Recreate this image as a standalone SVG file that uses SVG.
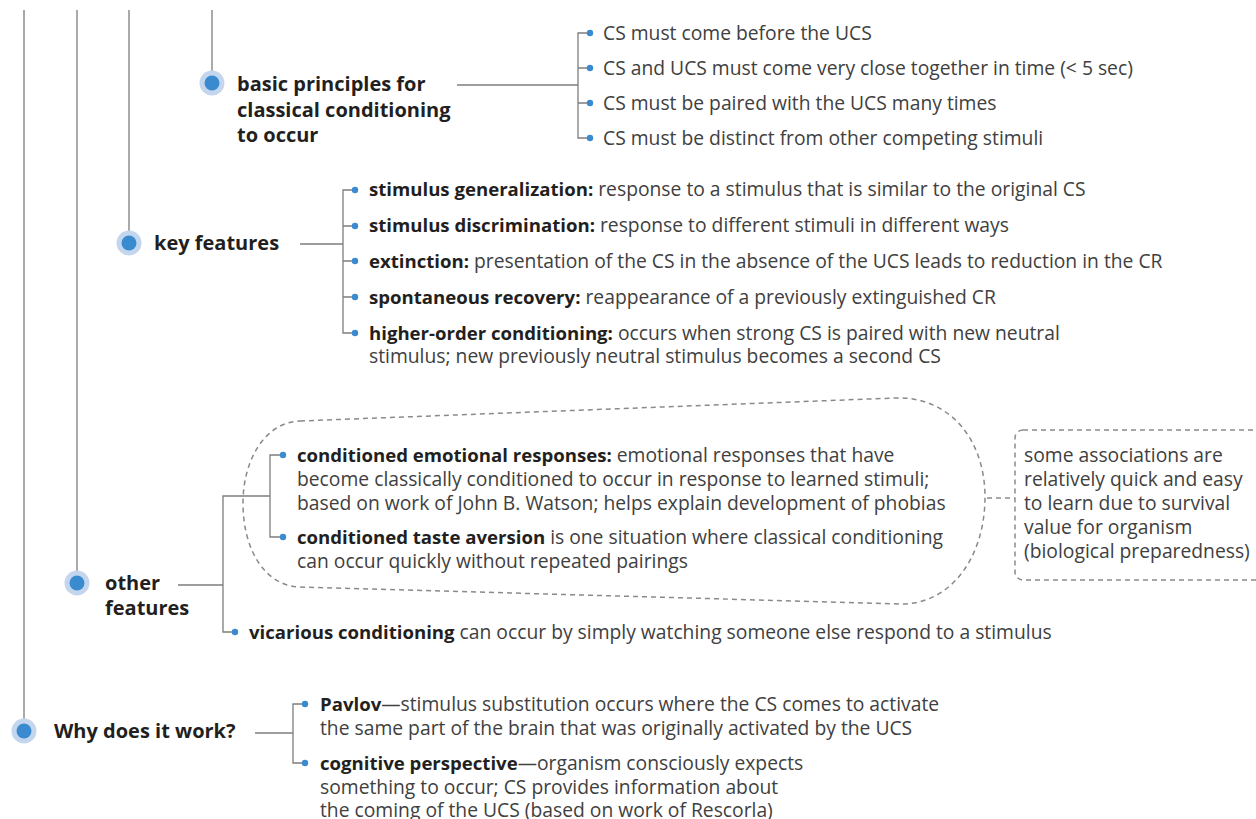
<svg xmlns="http://www.w3.org/2000/svg" width="1256" height="819" viewBox="0 0 1256 819">
<style>
.ln{fill:none;stroke:#7d7d7d;stroke-width:1.3}
.dash{fill:none;stroke:#8a8a8a;stroke-width:1.5;stroke-dasharray:5 4}
.halo{fill:#c3d6ee}
.core{fill:#3a8acf}
.lbl{font-family:"Open Sans","Liberation Sans",sans-serif;font-weight:700;font-size:20px;fill:#231f20}
.t{font-family:"Open Sans","Liberation Sans",sans-serif;font-size:19.3px;fill:#404040}
.b{font-weight:700;font-size:18.6px;fill:#231f20}
</style>
<rect width="1256" height="819" fill="#ffffff"/>
<g id="connectors">
<path class="ln" d="M24,10V731M77,10V583M129,10V243M212,10V83"/>
<path class="ln" d="M457,85H578M590,33H578V138H590M578,68H590M578,103H590"/>
<path class="ln" d="M300,244H343M355,190H343V333H355M343,226H355M343,261H355M343,297H355"/>
<path class="ln" d="M178,585H223M235,632H223V496H270M283,455H270V537H283"/>
<path class="ln" d="M255,733H293M305,704H293V763H305"/>
<path class="dash" d="M987,498H1015"/>
<g fill="#3a8acf">
<circle cx="590" cy="33" r="3.2"/><circle cx="590" cy="68" r="3.2"/><circle cx="590" cy="103" r="3.2"/><circle cx="590" cy="138" r="3.2"/>
<circle cx="355" cy="190" r="3.2"/><circle cx="355" cy="226" r="3.2"/><circle cx="355" cy="261" r="3.2"/><circle cx="355" cy="297" r="3.2"/><circle cx="355" cy="333" r="3.2"/>
<circle cx="283" cy="455" r="3.2"/><circle cx="283" cy="537" r="3.2"/><circle cx="235" cy="632" r="3.2"/>
<circle cx="305" cy="704" r="3.2"/><circle cx="305" cy="763" r="3.2"/>
</g>
</g>
<g id="node-basic">
<circle class="halo" cx="212" cy="83" r="12.5"/><circle class="core" cx="212" cy="83" r="7.5"/>
<text class="lbl" x="237" y="91">basic principles for</text>
<text class="lbl" x="237" y="117">classical conditioning</text>
<text class="lbl" x="237" y="142">to occur</text>
</g>
<g id="items-basic">
<text class="t" x="603" y="40">CS must come before the UCS</text>
<text class="t" x="603" y="75">CS and UCS must come very close together in time (&lt; 5 sec)</text>
<text class="t" x="603" y="110">CS must be paired with the UCS many times</text>
<text class="t" x="603" y="145">CS must be distinct from other competing stimuli</text>
</g>
<g id="node-key">
<circle class="halo" cx="129" cy="243" r="12.5"/><circle class="core" cx="129" cy="243" r="7.5"/>
<text class="lbl" x="154" y="250">key features</text>
</g>
<g id="items-key">
<text class="t" x="369" y="196"><tspan class="b">stimulus generalization:</tspan> response to a stimulus that is similar to the original CS</text>
<text class="t" x="369" y="232"><tspan class="b">stimulus discrimination:</tspan> response to different stimuli in different ways</text>
<text class="t" x="369" y="268"><tspan class="b">extinction:</tspan> presentation of the CS in the absence of the UCS leads to reduction in the CR</text>
<text class="t" x="369" y="304"><tspan class="b">spontaneous recovery:</tspan> reappearance of a previously extinguished CR</text>
<text class="t" x="369" y="340"><tspan class="b">higher-order conditioning:</tspan> occurs when strong CS is paired with new neutral</text>
<text class="t" x="369" y="363">stimulus; new previously neutral stimulus becomes a second CS</text>
</g>
<g id="node-other">
<circle class="halo" cx="77" cy="583" r="12.5"/><circle class="core" cx="77" cy="583" r="7.5"/>
<text class="lbl" x="105" y="590">other</text>
<text class="lbl" x="105" y="615">features</text>
</g>
<g id="group-blob">
<path class="dash" d="M300,421L895,398C950,396 985,440 985,497C985,558 950,605 900,604L300,587C265,586 243,550 243,503C243,460 265,422 300,421Z"/>
<text class="t" x="297" y="462"><tspan class="b">conditioned emotional responses:</tspan> emotional responses that have</text>
<text class="t" x="297" y="486">become classically conditioned to occur in response to learned stimuli;</text>
<text class="t" x="297" y="510">based on work of John B. Watson; helps explain development of phobias</text>
<text class="t" x="297" y="544"><tspan class="b">conditioned taste aversion</tspan> is one situation where classical conditioning</text>
<text class="t" x="297" y="568">can occur quickly without repeated pairings</text>
</g>
<g id="item-vicarious">
<text class="t" x="249" y="639"><tspan class="b">vicarious conditioning</tspan> can occur by simply watching someone else respond to a stimulus</text>
</g>
<g id="note-box">
<rect class="dash" x="1015" y="430" width="260" height="150" rx="8"/>
<text class="t" x="1024" y="462">some associations are</text>
<text class="t" x="1024" y="486">relatively quick and easy</text>
<text class="t" x="1024" y="510">to learn due to survival</text>
<text class="t" x="1024" y="534">value for organism</text>
<text class="t" x="1024" y="558">(biological preparedness)</text>
</g>
<g id="node-why">
<circle class="halo" cx="24" cy="731" r="12.5"/><circle class="core" cx="24" cy="731" r="7.5"/>
<text class="lbl" x="54" y="738">Why does it work?</text>
</g>
<g id="items-why">
<text class="t" x="320" y="711"><tspan class="b">Pavlov</tspan>—stimulus substitution occurs where the CS comes to activate</text>
<text class="t" x="320" y="735">the same part of the brain that was originally activated by the UCS</text>
<text class="t" x="320" y="770"><tspan class="b">cognitive perspective</tspan>—organism consciously expects</text>
<text class="t" x="320" y="794">something to occur; CS provides information about</text>
<text class="t" x="320" y="817">the coming of the UCS (based on work of Rescorla)</text>
</g>
</svg>
